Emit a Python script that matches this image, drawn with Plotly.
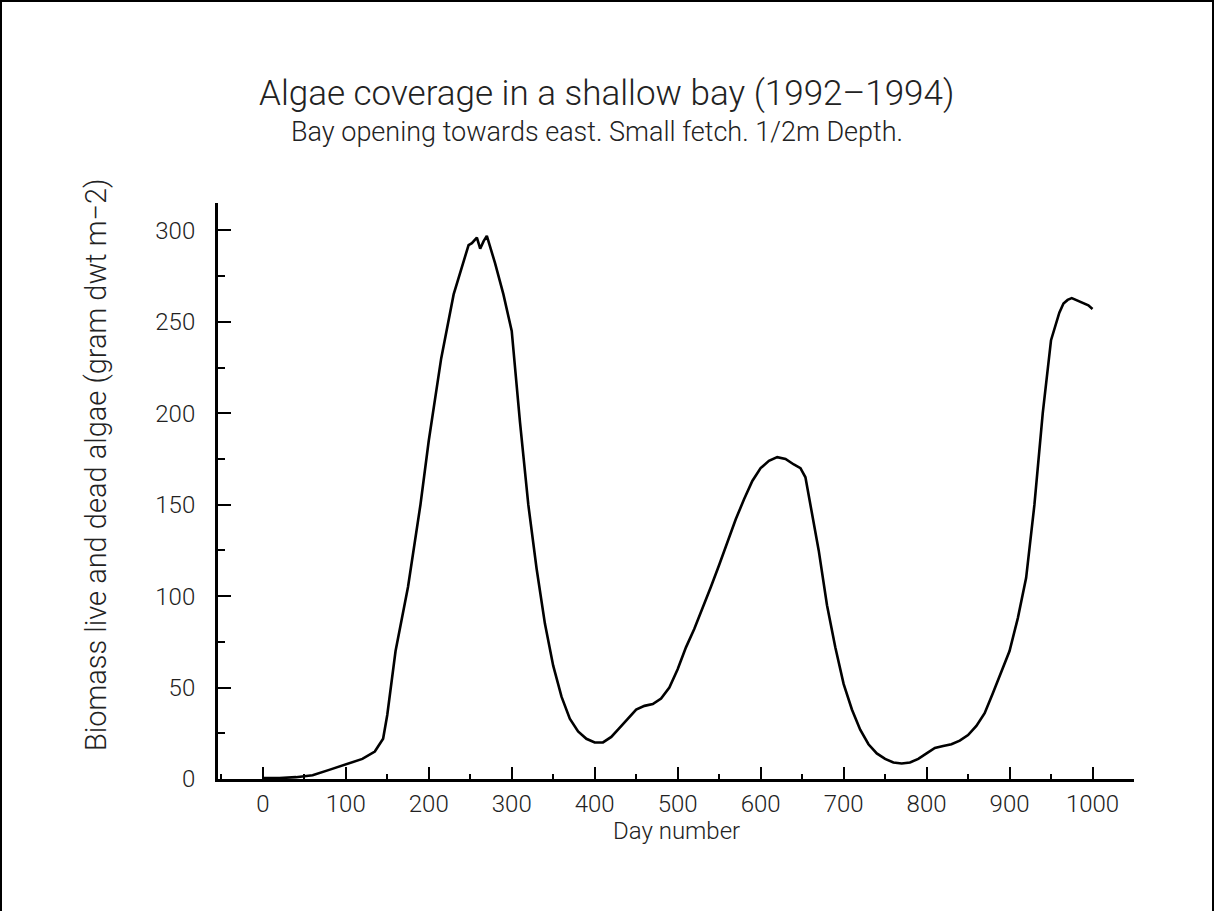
import plotly.graph_objects as go

# Day number and biomass (gram dwt m^-2)
days = [0, 20, 40, 60, 80, 100, 120, 135, 145, 150, 160, 175, 190, 200, 215, 230, 240,
        248, 252, 258, 262, 266, 270, 274, 280, 290, 300, 310, 320, 330, 340, 350, 360,
        370, 380, 390, 400, 410, 420, 430, 440, 450, 460, 470, 480, 490, 500, 510, 520,
        530, 540, 550, 560, 570, 580, 590, 600, 610, 620, 630, 640, 648, 654, 660, 670,
        680, 690, 700, 710, 720, 730, 740, 750, 760, 770, 780, 790, 800, 810, 820, 830,
        840, 850, 860, 870, 880, 890, 900, 910, 920, 930, 940, 950, 960, 965, 970, 975,
        980, 985, 990, 995, 1000]
biomass = [0.5, 0.5, 1, 2, 5, 8, 11, 15, 22, 35, 70, 105, 150, 185, 230, 265, 280,
           292, 293, 296, 290, 294, 297, 291, 282, 265, 245, 195, 150, 115, 85, 62, 45,
           33, 26, 22, 20, 20, 23, 28, 33, 38, 40, 41, 44, 50, 60, 72, 82,
           93, 105, 117, 130, 142, 153, 163, 170, 174, 176, 175, 172, 170, 165, 150, 125,
           95, 72, 52, 38, 27, 19, 14, 11, 9, 8.5, 9, 11, 14, 17, 18, 19,
           21, 24, 29, 36, 47, 58, 70, 88, 110, 150, 200, 240, 255, 260, 262, 263,
           262, 261, 260, 259, 257]

x_ticks = [0, 100, 200, 300, 400, 500, 600, 700, 800, 900, 1000]
y_ticks = [0, 50, 100, 150, 200, 250, 300]

title = "Algae coverage in a shallow bay (1992\u20131994)"
subtitle = "Bay opening towards east. Small fetch. 1/2m Depth."
x_title = "Day number"
y_title = "Biomass live and dead algae (gram dwt m\u22122)"

FONT = "Roboto"
W, H = 1214, 911
L, R, T, B = 218, 80, 203, 132

fig = go.Figure()
fig.add_trace(go.Scatter(x=days, y=biomass, mode="lines",
                         line=dict(color="black", width=2.6), showlegend=False))

fig.update_layout(
    width=W, height=H,
    margin=dict(l=L, r=R, t=T, b=B, pad=0),
    paper_bgcolor="white", plot_bgcolor="white",
    font=dict(family=FONT, color="#222", weight=300),
    xaxis=dict(range=[-54, 1050], tickvals=x_ticks, ticks="inside", ticklen=12,
               tickwidth=1.5, tickcolor="black", showline=True, linecolor="black",
               linewidth=3, showgrid=False, zeroline=False,
               tickfont=dict(size=24, family=FONT, weight=300),
               minor=dict(dtick=50, tick0=0, ticks="inside", ticklen=5,
                          tickwidth=1.5, tickcolor="black", showgrid=False),
               ticklabelstandoff=1),
    yaxis=dict(range=[0, 315], tickvals=y_ticks, ticks="inside", ticklen=13,
               tickwidth=1.5, tickcolor="black", showline=True, linecolor="black",
               linewidth=3, showgrid=False, zeroline=False,
               tickfont=dict(size=24, family=FONT, weight=300),
               minor=dict(dtick=25, tick0=0, ticks="inside", ticklen=7,
                          tickwidth=1.5, tickcolor="black", showgrid=False),
               ticklabelstandoff=15),
)

pw = W - L - R
ph = H - T - B

def px_to_paper_x(px):
    return (px - L) / pw

def px_to_paper_y(py):
    return (H - B - py) / ph

fig.add_annotation(text=title, xref="paper", yref="paper",
                   x=px_to_paper_x(606), y=px_to_paper_y(94), showarrow=False,
                   xanchor="center", yanchor="middle",
                   font=dict(size=35, family=FONT, color="#222", weight=300))
fig.add_annotation(text=subtitle, xref="paper", yref="paper",
                   x=px_to_paper_x(597), y=px_to_paper_y(132), showarrow=False,
                   xanchor="center", yanchor="middle",
                   font=dict(size=27, family=FONT, color="#222", weight=300))
fig.add_annotation(text=x_title, xref="paper", yref="paper",
                   x=px_to_paper_x(676), y=px_to_paper_y(831), showarrow=False,
                   xanchor="center", yanchor="middle",
                   font=dict(size=24, family=FONT, color="#222", weight=300))
fig.add_annotation(text=y_title, xref="paper", yref="paper", textangle=-90,
                   x=px_to_paper_x(96), y=px_to_paper_y(465), showarrow=False,
                   xanchor="center", yanchor="middle",
                   font=dict(size=29, family=FONT, color="#222", weight=300))

# outer frame
fig.add_shape(type="rect", xref="paper", yref="paper",
              x0=px_to_paper_x(1), x1=px_to_paper_x(W - 1),
              y0=px_to_paper_y(H + 2), y1=px_to_paper_y(1),
              line=dict(color="black", width=2), layer="above")

fig.write_html("out.html", config={"displayModeBar": False},
               post_script="document.body.style.margin='0';")
